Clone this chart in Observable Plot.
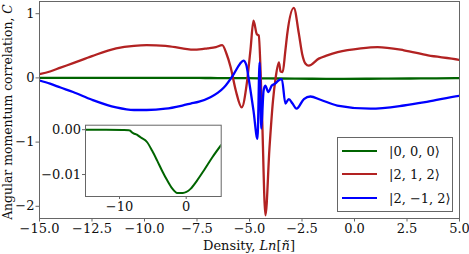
<!DOCTYPE html>
<html>
<head>
<meta charset="utf-8">
<script src="https://cdn.jsdelivr.net/npm/d3@7"></script>
<script src="https://cdn.jsdelivr.net/npm/@observablehq/plot@0.6"></script>
<style>
  body { margin: 0; background: white; }
  #wrap { position: relative; width: 469px; height: 254px; overflow: hidden; font-family: "DejaVu Serif", serif; }
  #wrap svg { position: absolute; }
  .lab { position: absolute; white-space: nowrap; font-size: 13px; color: #111; }
  #legend { position: absolute; left: 337px; top: 137px; width: 116px; height: 75px; border: 1px solid #666; background: white; box-sizing: border-box; }
  .row { position: absolute; left: 4px; height: 20px; display: flex; align-items: center; font-size: 13px; color: #111; }
  .sw { width: 35px; height: 0; border-top: 2.5px solid; margin-right: 12px; }
</style>
</head>
<body>
<div id="wrap"></div>
<script>
// ---- data ----
const seriesNames = ["|0, 0, 0⟩", "|2, 1, 2⟩", "|2, −1, 2⟩"];
const seriesColors = ["#006400", "#b22222", "#0000ff"];

const greenX = [-15, -12, -9.5, -8.6, -8.4, -8.2, -7.9, -7.4, -6.85, -5.85, -5.1, -4.35, -3.6, -2.85, -2.1, -1.35, -0.5, 0.65, 1.6, 2.65, 3.9, 5.25];
const greenY = [0, 0, -0.00005, -0.0001, -0.0002, -0.0005, -0.0008, -0.0011, -0.0017, -0.0028, -0.0047, -0.0069, -0.0092, -0.0113, -0.0131, -0.0141, -0.0141, -0.0132, -0.0114, -0.0091, -0.0062, -0.0034];

const redX = [-15, -14.5, -14, -13.4, -12.5, -11.35, -10.5, -9.9, -9, -8.2, -7.6, -7, -6.6, -6.3, -6.1, -5.9, -5.65, -5.37, -5.13, -4.95, -4.81, -4.65, -4.56, -4.41, -4.24, -4.05, -3.88, -3.76, -3.6, -3.52, -3.42, -3.3, -3.2, -2.89, -2.65, -2.49, -2.33, -2.18, -1.7, -1.3, -0.8, 0.3, 1.1, 2.35, 3.5, 5, 5.25];
const redY = [0.06, 0.10, 0.16, 0.23, 0.34, 0.46, 0.50, 0.51, 0.50, 0.46, 0.44, 0.46, 0.48, 0.51, 0.38, 0.17, -0.20, -0.46, -0.09, 0.45, 0.89, 0.68, 0.66, -0.51, -2.14, -1.1, -0.35, -0.01, 0.24, 0.10, 0.09, 0.40, 0.69, 1.09, 0.69, 0.37, 0.22, 0.19, 0.30, 0.35, 0.40, 0.46, 0.48, 0.43, 0.35, 0.28, 0.26];

const blueX = [-15, -14.5, -14, -13.4, -12.5, -11.35, -10.5, -9.9, -9, -8.2, -7.8, -7.4, -6.86, -6.5, -6.22, -5.75, -5.45, -5.29, -5.15, -5.05, -4.81, -4.62, -4.52, -4.44, -4.33, -4.25, -4.1, -3.94, -3.78, -3.62, -3.46, -3.29, -3.13, -2.95, -2.76, -2.41, -2.1, -1.62, -0.82, 0.76, 2.35, 3.5, 5, 5.25];
const blueY = [-0.04, -0.09, -0.15, -0.22, -0.34, -0.46, -0.50, -0.50, -0.48, -0.43, -0.40, -0.37, -0.30, -0.23, -0.15, 0.06, 0.22, 0.27, 0.20, 0.01, -0.51, -0.95, 0.24, -0.79, -0.20, -0.12, -0.22, -0.12, -0.09, -0.04, -0.02, -0.40, -0.33, -0.40, -0.48, -0.33, -0.29, -0.34, -0.43, -0.48, -0.43, -0.37, -0.28, -0.27];

const xTicks = [-15, -12.5, -10, -7.5, -5, -2.5, 0, 2.5, 5];
const xTickLabels = ["−15.0", "−12.5", "−10.0", "−7.5", "−5.0", "−2.5", "0.0", "2.5", "5.0"];
const yTicks = [-2, -1, 0, 1];
const yTickLabels = ["−2", "−1", "0", "1"];
const insetXTicks = [-10, 0];
const insetXTickLabels = ["−10", "0"];
const insetYTicks = [-0.01, 0];
const insetYTickLabels = ["−0.01", "0.00"];

// ---- build tables ----
const rows = [];
[[greenX, greenY], [redX, redY], [blueX, blueY]].forEach(([xs, ys], k) => {
  xs.forEach((x, i) => rows.push({x, y: ys[i], s: seriesNames[k]}));
});
const greenRows = greenX.map((x, i) => ({x, y: greenY[i]}));

const wrap = document.getElementById("wrap");
const axisColor = "#666";

const main = Plot.plot({
  width: 469, height: 254,
  marginLeft: 39, marginRight: 10, marginTop: 1, marginBottom: 36,
  style: {fontFamily: "DejaVu Serif, serif", fontSize: "13px", background: "white", color: "#111"},
  x: {domain: [-15, 5]},
  y: {domain: [-2.19, 1.19]},
  color: {domain: seriesNames, range: seriesColors},
  marks: [
    Plot.line(rows, {x: "x", y: "y", z: "s", stroke: "s", strokeWidth: 2.3, curve: "monotone-x", clip: true}),
    Plot.frame({stroke: axisColor, strokeWidth: 1}),
    Plot.axisX({ticks: xTicks, tickFormat: d => xTickLabels[xTicks.indexOf(d)], tickSize: 3.5, tickPadding: 2, label: null, stroke: axisColor}),
    Plot.axisY({ticks: yTicks, tickFormat: d => yTickLabels[yTicks.indexOf(d)], tickSize: 3.5, tickPadding: 1.5, label: null, stroke: axisColor})
  ]
});
main.style.left = "0px"; main.style.top = "0px";
wrap.appendChild(main);

// inset
const inset = Plot.plot({
  width: 190, height: 110,
  marginLeft: 45, marginRight: 9.3, marginTop: 14.7, marginBottom: 24,
  style: {fontFamily: "DejaVu Serif, serif", fontSize: "13px", background: "transparent", color: "#111"},
  x: {domain: [-15.1, 5.25]},
  y: {domain: [-0.0149, 0.001]},
  marks: [
    Plot.frame({fill: "white"}),
    Plot.line(greenRows, {x: "x", y: "y", stroke: seriesColors[0], strokeWidth: 2, curve: "monotone-x", clip: true}),
    Plot.frame({stroke: axisColor, strokeWidth: 1}),
    Plot.axisX({ticks: insetXTicks, tickFormat: d => insetXTickLabels[insetXTicks.indexOf(d)], tickSize: 3, tickPadding: 2, label: null, stroke: axisColor}),
    Plot.axisY({ticks: insetYTicks, tickFormat: d => insetYTickLabels[insetYTicks.indexOf(d)], tickSize: 3, tickPadding: 1.5, label: null, stroke: axisColor})
  ]
});
inset.style.left = "40px"; inset.style.top = "110px";
wrap.appendChild(inset);

// axis labels
const yl = document.createElement("div");
yl.className = "lab";
yl.style.left = "7px"; yl.style.top = "112px";
yl.style.fontSize = "12.4px";
yl.style.transform = "translate(-50%,-50%) rotate(-90deg)";
yl.innerHTML = "Angular momentum correlation, <i>C</i>";
wrap.appendChild(yl);

const xl = document.createElement("div");
xl.className = "lab";
xl.style.left = "249px"; xl.style.top = "245px";
xl.style.transform = "translate(-50%,-50%)";
xl.innerHTML = "Density, <i>Ln</i>[<i>ñ</i>]";
wrap.appendChild(xl);

// legend
const leg = document.createElement("div");
leg.id = "legend";
const rowTops = [3, 26, 50];
seriesNames.forEach((name, k) => {
  const r = document.createElement("div");
  r.className = "row";
  r.style.top = rowTops[k] + "px";
  const sw = document.createElement("div");
  sw.className = "sw";
  sw.style.borderTopColor = seriesColors[k];
  const t = document.createElement("span");
  t.textContent = name;
  r.appendChild(sw); r.appendChild(t);
  leg.appendChild(r);
});
wrap.appendChild(leg);
</script>
</body>
</html>
